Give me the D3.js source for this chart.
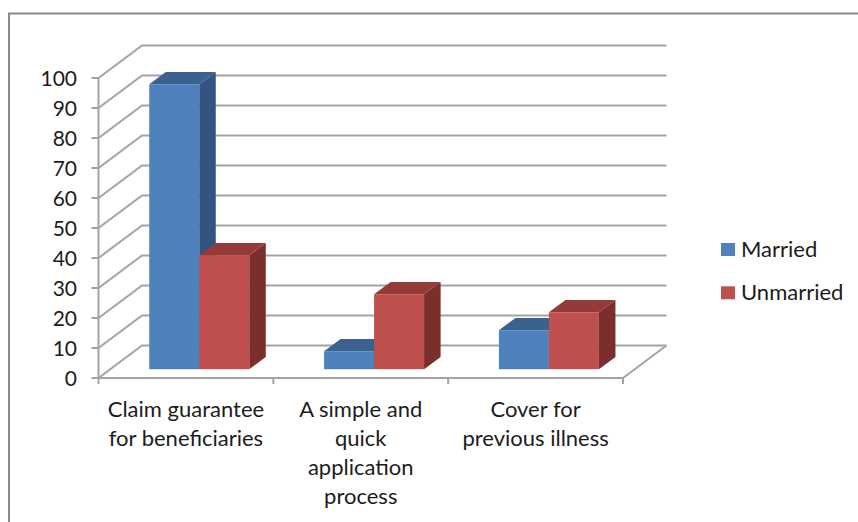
<!DOCTYPE html>
<html>
<head>
<meta charset="utf-8">
<style>
  html, body { margin: 0; padding: 0; background: #fff; }
  svg { display: block; }
  text { font-family: Lato, "Open Sans", sans-serif; fill: #1c1c1c; }
</style>
<script src="https://cdn.jsdelivr.net/npm/d3@7"></script>
</head>
<body>
<svg id="chart" width="858" height="522"></svg>
<script>
// Chart values
const categories = ["Claim guarantee for beneficiaries", "A simple and quick application process", "Cover for previous illness"];
const categoryLines = [
  ["Claim guarantee", "for beneficiaries"],
  ["A simple and", "quick", "application", "process"],
  ["Cover for", "previous illness"]
];
const seriesNames = ["Married", "Unmarried"];
const married = [95, 6, 13];
const unmarried = [38, 25, 19];
const yTicks = d3.range(0, 101, 10);

const colors = {
  Married: { front: "#4f81bd", top: "#3b618f", side: "#335480" },
  Unmarried: { front: "#c0504d", top: "#943a38", side: "#7a2f2d" }
};
const gridColor = "#a3a3a3";

const svg = d3.select("#chart");

// Frame round the chart area
svg.append("path")
  .attr("d", "M9,522V13.5H858")
  .attr("fill", "none").attr("stroke", "#8a8a8a").attr("stroke-width", 2);

// Oblique projection: the floor recedes up and to the right
const front = { left: 98.5, right: 623 };
const depthDx = 43.5, depthDy = 32.5;
const y = d3.scaleLinear().domain([0, 100]).range([378, 78]);
const x = d3.scaleBand().domain(categories).range([front.left, front.right]);
const bandInner = d3.scaleBand().domain(seriesNames).range([0, 100]);
const barInset = 39;
const nearDepth = 0.27, farDepth = 0.65;

const px = (xv, d) => xv + d * depthDx;
const py = (yv, d) => yv - d * depthDy;

// Walls and floor
const grid = svg.append("g").attr("fill", "none").attr("stroke", gridColor).attr("stroke-width", 2);
yTicks.forEach(t => {
  grid.append("path").attr("d",
    `M${front.left - 7},${y(t)}H${front.left}L${px(front.left, 1)},${py(y(t), 1)}H${px(front.right, 1)}`);
});
grid.append("path").attr("d", `M${front.left},${y(100)}V${y(0)}H${front.right}L${px(front.right, 1)},${py(y(0), 1)}`);
x.domain().forEach(c => {
  grid.append("path").attr("d", `M${x(c)},${y(0)}v6`);
});
grid.append("path").attr("d", `M${front.right},${y(0)}v6`);

// Bars: each one is a front face, a top and a side
const bars = seriesNames.flatMap((s, si) =>
  categories.map((c, ci) => ({ s, c, v: (si === 0 ? married : unmarried)[ci] })));
const base = y(0);

const barG = svg.append("g").selectAll("g")
  .data(bars.slice().sort((a, b) =>
    categories.indexOf(a.c) - categories.indexOf(b.c) || seriesNames.indexOf(a.s) - seriesNames.indexOf(b.s)))
  .join("g");

barG.each(function (d) {
  const g = d3.select(this);
  const x0 = px(x(d.c) + barInset + bandInner(d.s), nearDepth);
  const x1 = x0 + bandInner.bandwidth();
  const yBase = py(base, nearDepth);
  const yTop = py(y(d.v), nearDepth);
  const dx = (farDepth - nearDepth) * depthDx;
  const dy = (farDepth - nearDepth) * depthDy;
  const col = colors[d.s];
  g.append("path").attr("fill", col.side)
    .attr("d", `M${x1},${yBase}L${x1 + dx},${yBase - dy}V${yTop - dy}L${x1},${yTop}Z`);
  g.append("path").attr("fill", col.top)
    .attr("d", `M${x0},${yTop}L${x0 + dx},${yTop - dy}H${x1 + dx}L${x1},${yTop}Z`);
  g.append("rect").attr("fill", col.front)
    .attr("x", x0).attr("y", yTop).attr("width", x1 - x0).attr("height", yBase - yTop);
});

// Value axis labels
svg.append("g").selectAll("text").data(yTicks).join("text")
  .attr("x", 77).attr("y", d => y(d) + 7.5)
  .attr("text-anchor", "end").attr("font-size", 21).text(d => d);

// Category labels, wrapped as stacked lines
categories.forEach((c, i) => {
  const t = svg.append("text").attr("text-anchor", "middle").attr("font-size", 22);
  categoryLines[i].forEach((line, j) => {
    t.append("tspan").attr("x", x(c) + x.bandwidth() / 2).attr("y", 416.5 + j * 29).text(line);
  });
});

// Legend
const legend = svg.append("g").selectAll("g").data(seriesNames).join("g")
  .attr("transform", (d, i) => `translate(721,${243 + i * 43.3})`);
legend.append("rect").attr("width", 14).attr("height", 13)
  .attr("fill", d => colors[d].front);
legend.append("text").attr("x", 20).attr("y", 13.5).attr("font-size", 22).text(d => d);
</script>
</body>
</html>
